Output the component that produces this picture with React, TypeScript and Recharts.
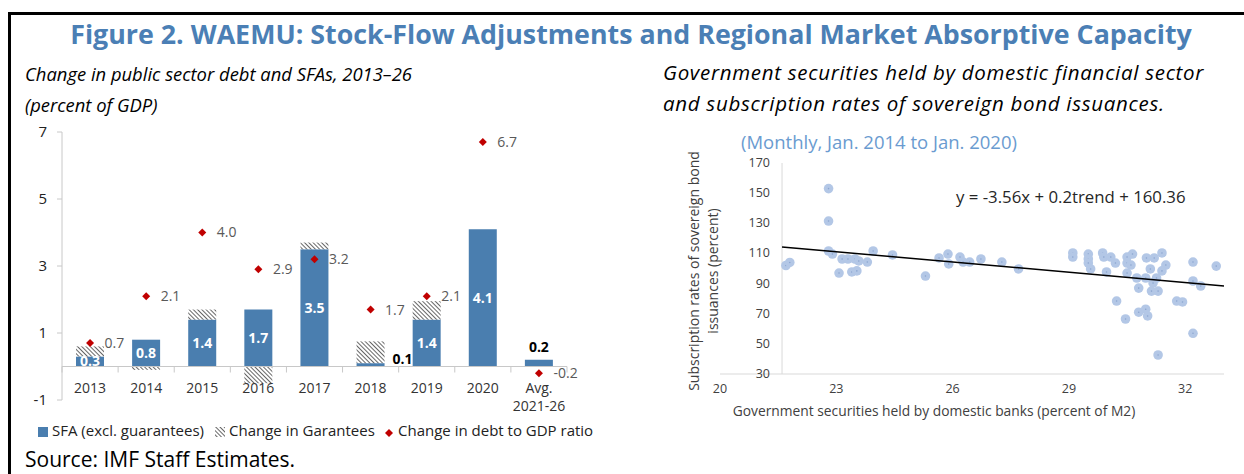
import React from "react";
import {
  ComposedChart,
  ScatterChart,
  Bar,
  Scatter,
  XAxis,
  YAxis,
  ReferenceLine,
  LabelList,
} from "recharts";

// left panel: change in public sector debt and SFAs (percent of GDP)
const categories = ["2013", "2014", "2015", "2016", "2017", "2018", "2019", "2020", "Avg. 2021-26"];
const sfaValues = [0.3, 0.8, 1.4, 1.7, 3.5, 0.1, 1.4, 4.1, 0.2];
const guaranteeValues = [0.3, -0.1, 0.3, -0.5, 0.2, 0.65, 0.55, 0, 0];
const debtChangeValues = [0.7, 2.1, 4.0, 2.9, 3.2, 1.7, 2.1, 6.7, -0.2];
const leftTicks = [-1, 1, 3, 5, 7];

// right panel: monthly observations, Jan. 2014 to Jan. 2020
const bankHoldings = [
  21.7, 21.8, 22.8, 22.8, 22.8, 22.9, 23.07, 23.15, 23.3, 23.48, 23.58, 23.4, 23.53, 23.8, 23.95,
  24.45, 25.3, 25.65, 25.88, 25.9, 26.19, 26.27, 26.44, 26.73, 27.27, 27.7, 29.1, 29.1, 29.5, 29.5,
  29.5, 29.56, 29.87, 29.9, 30.08, 30.2, 29.97, 30.5, 30.64, 30.5, 30.6, 30.5, 30.75, 31.0, 31.2,
  31.4, 31.5, 31.4, 31.1, 31.26, 30.98, 31.17, 32.2, 32.2, 32.4, 32.8, 30.8, 31.13, 31.3, 30.23,
  30.46, 30.8, 30.98, 31.03, 31.78, 31.93, 32.2, 31.3,
];
const subscriptionRates = [
  102, 104, 153, 131.5, 111.6, 109.6, 97, 106.3, 106.3, 106.3, 105, 97.7, 98.4, 104.3, 111.6,
  109, 95, 107, 109.6, 103, 107.6, 104.3, 104.3, 106.3, 104.3, 99.7, 110.3, 107.6, 109.6, 106.3,
  103.6, 99.7, 110.3, 107.6, 107.6, 103.6, 97.7, 107.6, 109.6, 103.6, 102.3, 97, 93.7, 107, 107,
  110.3, 102.3, 98.4, 99.7, 93.7, 93.7, 90.4, 104.3, 91.7, 88.4, 101.6, 87, 85, 85, 78.4,
  66.5, 71, 73, 68.5, 78.4, 77.8, 57, 42.6,
];
const trendX = [21.6, 33];
const trendY = [114.3, 88.4];
const rightXTicks = [20, 23, 26, 29, 32];
const rightYTicks = [30, 50, 70, 90, 110, 130, 150, 170];
const yAxisCrossesAt = 21.6;

const FONT = "'Open Sans', sans-serif";
const BLUE = "#4A7EAF";
const RED = "#C00000";
const GRID = "#C8C8C8";

const L_PLOT_W = 505;
const L_PLOT_H = 268;
const R_PLOT_W = 504;
const BAR_W = 28;

// range bars: sfa from 0 up, guarantees either on top of sfa or hanging below 0
const leftData = categories.map((c, i) => {
  const s = sfaValues[i];
  const g = guaranteeValues[i];
  return {
    cat: c,
    sfa: [0, s],
    guar: g >= 0 ? [s, s + g] : [g, 0],
    debt: debtChangeValues[i],
  };
});

const scatterData = bankHoldings.map((x, i) => ({ x, y: subscriptionRates[i] }));
const trendData = trendX.map((x, i) => ({ x, y: trendY[i] }));

// where the sfa label goes when it doesn't fit in the bar
const outsideLabel: Record<string, "right" | "top"> = {
  "2018": "right",
  "Avg. 2021-26": "top",
};

function CategoryTick(props: any) {
  const { x, y, payload, index } = props;
  const band = L_PLOT_W / categories.length;
  const zeroY = y - L_PLOT_H / 8; // axis sits on 0, one unit above the -1 bottom
  const label: string = payload.value;
  const lines = label.startsWith("Avg.") ? label.split(" ") : [label];
  return (
    <g>
      <line x1={x - band / 2} x2={x - band / 2} y1={zeroY} y2={zeroY + 6} stroke={GRID} />
      {index === categories.length - 1 && (
        <line x1={x + band / 2} x2={x + band / 2} y1={zeroY} y2={zeroY + 6} stroke={GRID} />
      )}
      {lines.map((t, i) => (
        <text
          key={i}
          x={x}
          y={zeroY + 26 + i * 18}
          textAnchor="middle"
          fontSize={14}
          fontFamily={FONT}
          fill="#333"
        >
          {t}
        </text>
      ))}
    </g>
  );
}

function SfaLabel(props: any) {
  const { x, y, width, height, index } = props;
  const where = outsideLabel[categories[index]];
  const txt = sfaValues[index].toFixed(1);
  const top = Math.min(y, y + height);
  const h = Math.abs(height);
  if (where === "right") {
    return (
      <text x={x + width + 8} y={top + h / 2 - 1} fontSize={14} fontWeight={700} fontFamily={FONT} fill="#000">
        {txt}
      </text>
    );
  }
  if (where === "top") {
    return (
      <text x={x + width / 2} y={top - 8} textAnchor="middle" fontSize={14} fontWeight={700} fontFamily={FONT} fill="#000">
        {txt}
      </text>
    );
  }
  return (
    <text x={x + width / 2} y={top + h / 2 + 5} textAnchor="middle" fontSize={14} fontWeight={700} fontFamily={FONT} fill="#fff">
      {txt}
    </text>
  );
}

function Diamond(props: any) {
  const { cx, cy } = props;
  const r = 4;
  return <polygon points={`${cx},${cy - r} ${cx + r},${cy} ${cx},${cy + r} ${cx - r},${cy}`} fill={RED} />;
}

function Dot(props: any) {
  const { cx, cy } = props;
  return (
    <g>
      <circle cx={cx} cy={cy} r={4.8} fill="#B3C7E6" />
      <circle cx={cx} cy={cy} r={0.8} fill="#8CA6D0" />
    </g>
  );
}

function RightYTick(props: any) {
  const { x, y, payload } = props;
  const shift = ((yAxisCrossesAt - 20) * R_PLOT_W) / 13 - 12;
  return (
    <text x={x + shift} y={y + 4} textAnchor="end" fontSize={12.5} fontFamily={FONT} fill="#404040">
      {payload.value}
    </text>
  );
}

function LegendHatch() {
  return (
    <svg width={12} height={12} style={{ display: "block" }}>
      <defs>
        <pattern id="hatchLegend" width={3} height={3} patternUnits="userSpaceOnUse" patternTransform="rotate(-45)">
          <rect width={3} height={3} fill="#fff" />
          <line x1={0} y1={0} x2={0} y2={3} stroke="#000" strokeWidth={1.2} />
        </pattern>
      </defs>
      <rect x={1} y={1} width={10} height={10} fill="url(#hatchLegend)" />
    </svg>
  );
}

const abs = (left: number, top: number): React.CSSProperties => ({ position: "absolute", left, top });

export default function App() {
  return (
    <div style={{ position: "absolute", left: 0, top: 0, width: 1244, height: 474, overflow: "hidden", background: "#fff", fontFamily: FONT }}>
      <div style={{ position: "absolute", left: 8, top: 12, width: 1236, height: 462, borderLeft: "3px solid #000", borderTop: "3px solid #000" }} />

      <div style={{ position: "absolute", left: 0, top: 15, width: 1262, textAlign: "center", fontSize: 26.8, fontWeight: 700, color: "#4B7FB5", whiteSpace: "nowrap" }}>
        Figure 2. WAEMU: Stock-Flow Adjustments and Regional Market Absorptive Capacity
      </div>

      <div style={{ ...abs(25, 58), fontSize: 18.4, fontStyle: "italic", color: "#000", lineHeight: "31px", whiteSpace: "nowrap" }}>
        Change in public sector debt and SFAs, 2013–26
        <br />
        (percent of GDP)
      </div>
      <div style={{ ...abs(663, 57), fontSize: 20.5, letterSpacing: 0.7, fontStyle: "italic", color: "#000", lineHeight: "31px", whiteSpace: "nowrap" }}>
        Government securities held by domestic financial sector
        <br />
        and subscription rates of sovereign bond issuances.
      </div>

      {/* left chart */}
      <div style={abs(20, 120)}>
        <ComposedChart width={560} height={300} data={leftData} margin={{ top: 12, right: 13, left: 0, bottom: 0 }} barSize={BAR_W} barGap={-BAR_W}>
          <defs>
            <pattern id="hatch" width={3} height={3} patternUnits="userSpaceOnUse" patternTransform="rotate(-45)">
              <rect width={3} height={3} fill="#fff" />
              <line x1={0} y1={0} x2={0} y2={3} stroke="#000" strokeWidth={1.2} />
            </pattern>
          </defs>
          <XAxis dataKey="cat" axisLine={false} tickLine={false} tickSize={0} tickMargin={0} height={20} interval={0} tick={<CategoryTick />} />
          <YAxis
            domain={[-1, 7]}
            ticks={leftTicks}
            width={42}
            allowDataOverflow
            axisLine={{ stroke: GRID }}
            tickLine={{ stroke: GRID }}
            tickSize={5}
            tickMargin={10}
            tick={{ fontSize: 15, fill: "#222", fontFamily: FONT }}
          />
          <ReferenceLine y={0} stroke={GRID} />
          <Bar dataKey="sfa" fill={BLUE} isAnimationActive={false}>
            <LabelList dataKey="sfa" content={<SfaLabel />} />
          </Bar>
          <Bar dataKey="guar" fill="url(#hatch)" isAnimationActive={false} />
          <Scatter dataKey="debt" shape={<Diamond />} isAnimationActive={false}>
            <LabelList
              dataKey="debt"
              position="right"
              offset={10}
              formatter={(v: any) => Number(v).toFixed(1)}
              style={{ fontSize: 14, fill: "#595959", fontFamily: FONT }}
            />
          </Scatter>
        </ComposedChart>
      </div>

      {/* left legend */}
      <div style={{ ...abs(38, 427), width: 10, height: 10, background: BLUE }} />
      <div style={{ ...abs(52, 420), fontSize: 15, color: "#222", whiteSpace: "nowrap" }}>SFA (excl. guarantees)</div>
      <div style={abs(214, 426)}>
        <LegendHatch />
      </div>
      <div style={{ ...abs(229, 420), fontSize: 15, color: "#222", whiteSpace: "nowrap" }}>Change in Garantees</div>
      <div style={abs(384, 428)}>
        <svg width={10} height={10} style={{ display: "block" }}>
          <polygon points="5,1 9,5 5,9 1,5" fill={RED} />
        </svg>
      </div>
      <div style={{ ...abs(398, 420), fontSize: 15, color: "#222", whiteSpace: "nowrap" }}>Change in debt to GDP ratio</div>

      <div style={{ ...abs(25, 446), fontSize: 21, color: "#000", whiteSpace: "nowrap", lineHeight: "26px" }}>Source: IMF Staff Estimates.</div>

      {/* right chart */}
      <div style={{ ...abs(629, 130), width: 500, textAlign: "center", fontSize: 18.5, color: "#6A9BD0", whiteSpace: "nowrap", lineHeight: "24px" }}>
        (Monthly, Jan. 2014 to Jan. 2020)
      </div>
      <div style={{ ...abs(956, 185), fontSize: 16.8, color: "#262626", whiteSpace: "nowrap" }}>y = -3.56x + 0.2trend + 160.36</div>
      <div
        style={{
          position: "absolute",
          left: 703,
          top: 271,
          transform: "translate(-50%, -50%) rotate(-90deg)",
          fontSize: 14,
          color: "#404040",
          textAlign: "center",
          lineHeight: "19px",
          whiteSpace: "nowrap",
        }}
      >
        Subscription rates of sovereign bond
        <br />
        issuances (percent)
      </div>
      <div style={{ ...abs(640, 401), width: 588, textAlign: "center", fontSize: 13.8, color: "#404040", whiteSpace: "nowrap" }}>
        Government securities held by domestic banks (percent of M2)
      </div>

      <div style={abs(640, 130)}>
        <ScatterChart width={600} height={300} margin={{ top: 33, right: 16, left: 0, bottom: 0 }}>
          <XAxis
            type="number"
            dataKey="x"
            domain={[20, 33]}
            ticks={rightXTicks}
            height={56}
            axisLine={{ stroke: "#D9D9D9" }}
            tickLine={false}
            tickSize={0}
            tickMargin={10}
            tick={{ fontSize: 12.5, fill: "#404040", fontFamily: FONT }}
          />
          <YAxis
            type="number"
            dataKey="y"
            domain={[30, 170]}
            ticks={rightYTicks}
            width={80}
            axisLine={false}
            tickLine={false}
            tickSize={0}
            tickMargin={0}
            tick={<RightYTick />}
          />
          <ReferenceLine x={yAxisCrossesAt} stroke="#D9D9D9" />
          <Scatter data={scatterData} shape={<Dot />} isAnimationActive={false} />
          <Scatter data={trendData} line={{ stroke: "#000", strokeWidth: 1.5 }} shape={() => <g />} isAnimationActive={false} />
        </ScatterChart>
      </div>
    </div>
  );
}
